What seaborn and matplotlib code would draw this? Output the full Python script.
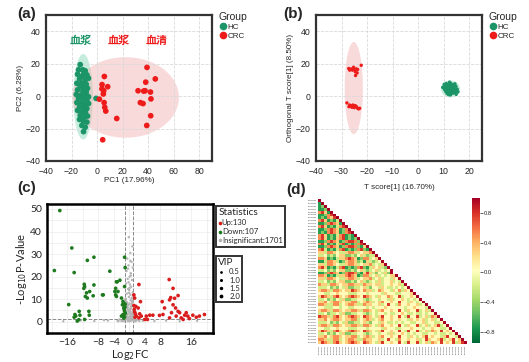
import numpy as np
import pandas as pd
import matplotlib
matplotlib.use("Agg")
import matplotlib.pyplot as plt
from matplotlib.patches import Ellipse
from matplotlib.lines import Line2D
import seaborn as sns

HC_COLOR = "#1B9468"
CRC_COLOR = "#EE1B1B"
NS_COLOR = "#B4B4B4"
DOWN_COLOR = "#1E7A1E"
UP_COLOR = "#D91C1C"
ELLIPSE_SCALE = 2.45

# ---- (a) PCA scores ----
pca_hc_x = [-13.2, -14.5, -11.1, -9.3, -15.3, -10.6, -8.0, -11.9, -13.7, -9.3,
            -6.7, -15.8, -11.9, -8.5, -13.2, -10.6, -7.5, -15.3, -11.1, -8.5,
            -16.3, -12.7, -9.3, -6.7, -14.5, -11.1, -8.0, -15.8, -12.4, -9.6,
            -6.7, -13.7, -10.6, -8.0, -15.3, -11.9, -9.1, -13.2, -10.1, -7.5,
            -13.7, -10.6, -8.0, -11.9, -9.3, -10.6, -0.8]
pca_hc_y = [19.4, 16.2, 16.2, 15.6, 13.5, 13.5, 13.1, 12.1, 10.6, 10.0,
            11.0, 7.9, 7.9, 7.3, 5.8, 5.2, 4.8, 3.8, 3.1, 2.3,
            1.0, 0.6, 0.2, -0.4, -1.5, -1.9, -2.5, -4.0, -4.6, -5.2,
            -4.6, -6.7, -7.3, -7.7, -8.8, -9.8, -10.2, -11.9, -12.9, -12.3,
            -14.4, -15.6, -16.0, -18.1, -19.2, -21.9, -1.4]
pca_crc_x = [39.1, 5.7, 45.6, 38.1, 3.9, 8.3, 5.2, 4.9, 32.1, 36.5,
             37.6, 41.8, 1.8, 33.9, 42.2, 36.0, 6.0, 6.8, 15.4, 42.0,
             38.9, 4.4, 3.8, 5.5]
pca_crc_y = [17.7, 12.1, 10.6, 8.6, 7.1, 5.8, 3.3, 1.3, 3.3, 3.1,
             3.3, 2.5, -1.9, -4.0, -1.7, -4.6, -6.9, -9.2, -13.8, -12.1,
             -18.1, -26.9, 4.5, -4.0]

# ---- (b) OPLS-DA scores ----
opls_hc_x = [10.2, 11.0, 11.8, 12.5, 13.1, 13.8, 14.4, 10.6, 11.4, 12.2,
             12.9, 13.5, 14.1, 14.8, 10.0, 10.9, 11.7, 12.4, 13.2, 13.9,
             14.6, 15.3, 10.4, 11.2, 12.0, 12.7, 13.4, 14.2, 15.0, 10.8,
             11.6, 12.3, 13.0, 13.7, 14.5, 11.3, 12.1, 12.8, 13.6, 11.9,
             12.6, 15.6, 9.6, 12.3, 14.9]
opls_hc_y = [7.2, 7.8, 6.9, 8.1, 7.4, 6.8, 7.6, 6.1, 5.8, 6.5,
             5.9, 6.3, 5.6, 6.0, 5.0, 4.8, 5.2, 4.6, 5.1, 4.4,
             4.9, 4.3, 3.9, 3.6, 4.1, 3.4, 3.8, 3.3, 3.7, 2.8,
             2.5, 3.0, 2.4, 2.9, 2.2, 1.6, 1.9, 1.3, 1.8, 0.9,
             0.7, 2.6, 5.4, 8.6, 1.1]
opls_crc_x = [-27.2, -26.6, -25.9, -25.3, -24.9, -24.2, -23.7, -24.6, -23.9, -24.5,
              -22.3, -26.8, -25.7, -27.9, -26.8, -26.6, -26.2, -25.5, -25.0, -24.6,
              -24.2, -23.7, -23.3, -22.9, -25.9, -27.1]
opls_crc_y = [17.0, 16.6, 16.8, 17.8, 16.4, 16.8, 16.4, 15.0, 14.3, 12.7,
              19.0, 16.0, 16.0, -4.2, -5.5, -6.3, -5.9, -5.5, -7.1, -5.9,
              -6.5, -7.5, -7.9, -7.5, -6.9, -6.5]

# ---- (c) volcano ----
down_fc = [-17.9, -14.8, -19.3, -14.2, -10.8, -9.1, -5.0, -11.6, -11.5, -11.7,
           -11.0, -11.3, -10.8, -10.2, -9.1, -9.3, -6.9, -15.6, -14.0, -13.8,
           -14.2, -12.9, -12.7, -10.4, -10.3, -11.5, -13.4, -13.0, -3.1, -2.4,
           -3.5, -2.9, -3.3, -2.0, -1.6, -1.75, -1.4, -1.2, -1.6, -2.0,
           -1.05, -1.2, -1.2, -1.05, -3.3, -3.7, -3.5, -6.7, -1.1, -1.3,
           -1.5, -1.0, -1.2, -1.4]
down_p = [49.3, 32.7, 22.7, 21.8, 27.2, 28.6, 22.4, 16.6, 15.6, 14.8,
          12.8, 11.2, 10.5, 13.4, 16.3, 11.5, 11.9, 7.6, 3.2, 2.5,
          2.0, 4.6, 2.9, 4.6, 2.9, 1.0, 0.3, 0.9, 17.7, 18.4,
          14.8, 13.4, 11.2, 10.5, 9.0, 7.5, 6.1, 4.7, 3.2, 2.5,
          7.8, 15.6, 28.6, 24.0, 17.7, 13.4, 11.9, 11.9, 6.5, 5.5,
          8.2, 3.8, 2.2, 1.6]
up_fc = [10.3, 11.3, 10.7, 10.4, 11.7, 12.6, 11.3, 8.5, 11.95, 2.5,
         9.1, 10.9, 13.0, 14.3, 15.1, 16.4, 18.1, 19.4, 12.1, 8.7,
         7.8, 6.1, 5.3, 4.4, 4.0, 2.7, 2.9, 2.3, 1.7, 1.4,
         1.8, 3.1, 2.5, 1.4, 1.2, 10.4, 13.4, 15.5, 17.3, 14.7,
         12.6, 13.9, 4.7, 1.3, 1.6, 1.2, 1.5]
up_p = [18.7, 14.8, 10.7, 9.7, 10.4, 11.6, 7.5, 8.9, 6.1, 16.5,
        6.1, 4.0, 4.0, 2.9, 2.5, 2.9, 2.5, 3.2, 2.5, 3.2,
        2.8, 2.9, 2.9, 2.5, 1.0, 3.5, 8.9, 6.1, 6.8, 4.3,
        2.5, 2.5, 1.7, 10.5, 11.9, 1.7, 1.7, 1.4, 2.0, 4.0,
        4.6, 1.0, 1.0, 5.5, 3.5, 7.2, 2.0]
ns_fc = [0.8, 0.3, -0.5, 0.6, -0.2, 0.9, -0.7, 0.4, 0.1, -0.4,
         0.7, -0.8, 0.2, 0.5, -0.3, 0.0, 0.9, -0.6, 0.3, -0.1,
         0.6, -0.9, 0.4, 0.8, -0.5, 0.1, -0.2, 0.7, 0.5, -0.7,
         0.2, -0.4, 0.9, 0.0, -0.8, 0.6, 0.3, -0.3, 0.4, -0.6,
         0.1, 0.8, -0.1, 0.5, -0.9, 0.2, 0.7, -0.5, 0.0, 0.3,
         -0.2, 0.6, -0.4, 1.1, -1.1, 1.3, -1.3, 1.5, -1.6, 1.2,
         -1.4, 1.8, -2.0, 1.0, -1.0, -3.0, -5.5, -9.0, -12.5, -17.0,
         3.5, 6.5, 9.5, 13.0, 17.5, -6.5, 2.2, -2.5,
         0.15, -0.25, 0.35, -0.45, 0.55, -0.65, 0.75, -0.85, 0.05, -0.15,
         0.25, -0.35, 0.45, -0.55, 0.65, -0.75, 0.85, -0.95, 0.95, -0.05,
         0.12, -0.22, 0.32, -0.42, 0.52, -0.62, 0.72, -0.82, 0.92, -0.92,
         0.18, -0.28, 0.38, -0.48, 0.58, -0.68, 0.78, -0.88, 0.08, -0.18,
         1.4, -1.2, 1.6, -1.5, 2.6, -2.8, 0.45, -0.35, 0.28, -0.12]
ns_p = [33.4, 30.5, 28.0, 26.5, 25.0, 24.0, 22.5, 21.5, 20.0, 19.0,
        18.5, 17.0, 16.5, 15.5, 14.5, 14.0, 13.0, 12.5, 12.0, 11.0,
        10.5, 10.0, 9.5, 9.0, 8.5, 8.0, 7.5, 7.0, 6.5, 6.0,
        5.5, 5.0, 4.5, 4.5, 4.0, 4.0, 3.5, 3.5, 3.0, 3.0,
        2.5, 2.5, 2.0, 2.0, 1.8, 1.5, 1.5, 1.2, 1.0, 0.8,
        0.6, 0.5, 0.3, 3.0, 2.0, 1.5, 1.0, 0.8, 0.6, 0.4,
        0.3, 0.5, 0.3, 5.0, 6.0, 0.4, 0.5, 0.3, 0.6, 0.2,
        0.4, 0.3, 0.5, 0.2, 0.4, 0.7, 0.9, 1.0,
        0.5, 0.9, 1.3, 1.7, 2.2, 2.7, 3.2, 3.8, 4.3, 4.9,
        5.4, 6.2, 6.8, 7.4, 8.1, 8.8, 9.3, 10.2, 11.5, 12.8,
        0.2, 0.4, 0.7, 1.1, 1.4, 1.9, 2.4, 2.9, 3.4, 4.1,
        4.6, 5.2, 5.9, 6.6, 7.2, 7.9, 8.6, 9.8, 15.0, 17.5,
        0.6, 0.9, 0.2, 0.4, 0.3, 0.2, 20.5, 23.5, 27.0, 37.5]
stat_labels = ["Up:130", "Down:107", "Insignificant:1701"]
vip_levels = [0.5, 1.0, 1.5, 2.0]
vip_group = {"Up": 1.5, "Down": 1.5, "NS": 0.5}

# ---- (d) correlation heatmap (lower triangle, coded levels) ----
corr_levels = {"G": -0.72, "g": -0.45, "l": -0.2, "y": 0.05, "o": 0.28,
               "r": 0.52, "R": 0.78, "D": 1.0}
corr_rows = [
    "D", "GD", "GgD", "GGgD", "rRoGD", "GGgrRD", "GgGroRD", "rRoGgGlD",
    "GGgrRroGD", "rRoGgGlrRD", "GGgrRroGgrD", "GgGrRroGgrRD", "rRoGgGlrRGgGD",
    "rRoGgGorRGgGgD", "GGgrRroGgrRRrgD", "rRoGgGlrRGgGgrRD", "GGgrRroGgrRRrgGoD",
    "rRlGgGlrRGgGgrRgGD",
    "oolrroyllorrolyoorD",
    "llyglgyoogglgyolgllD",
    "rroGgGloorRroGgrrlyoD",
    "GGlrrolGgorroglGolglyD",
    "oolrroyllorrolyoorlyloD",
    "rRoGgGlrRGgGgrRgGloyolgD",
    "llyglgyoogglgyolglyolylyD",
    "GGgrRroGgrRRrgGoRolgylogD",
    "rroGgGloorRroGgrrlyolylyooD",
    "oolrroyllorrolyoorlyolyyloyD",
    "llyglgyoogglgyolglylolyyolylD",
    "roolrroyoorroolrooyoolyyoyyolD",
    "lllyglgyloggllyolgyyloyllylylyD",
    "orrolrroyooRroyroolyroyyloyrloyD",
    "yyllyyoyyylllyyylyyyyloyyyllyyyoD",
    "oRrolrRoyorRroyRroyloyyroyyRlyyoyD",
    "llyglgyloggllyylglyylyylolyyoylylyD",
    "ooryorroyoorrlyorolyoryyoyyRyyloylyD",
    "rrollrrlyorrollrooyyolyRyylryyoyyolyD",
    "yylllyylyyllyyyylylyyyoyyyyyylyyoyyylD",
    "orrolrroyoorrolrroyloryyoyyRyloyyRlyolD",
    "llygllyloggllyylglylyylyllyyoyllyllylyyD",
    "RrrolrRoyorRroyRroyloRyyoyyRylRyyRlyolroD",
    "ooryorroyoorrlyorolyoryyoyyoyyloyoyolyolyD",
    "lllyglgyloggllyolgyyloyllylylyyllyyolyyllyD",
    "orrolrroyoorrolrroyloryyoyyRyloyyRlyolyoRlyD",
    "yyllyyoyyylllyyylyyyyloyyyllyyyoyyylyyoyyllyD",
    "oRrolrRoyorRroyRroyloRyyoyyRylRyyRlyolroyRyoyD",
    "llyglgyloggllyylglyylyylolyyoylylyyllyylyllylyD",
    "ooryorroyoorrlyorolyoryyoyyRyyloylyoRyoyyloRyylD",
    "rrollrrlyorrollrooyyolyRyylryyoyyolyRoyyoRlyoRyoD",
    "oRrolrRoyorRroyRroyloRyyoyyRylRyyRlyolroyRyoyRloRD",
]
metabolite_ids = ["MEDN%04d" % (1120 + k * 7) for k in range(len(corr_rows))]
cbar_ticks = [-0.8, -0.4, 0.0, 0.4, 0.8]
cbar_labels = ["\u22120.8", "\u22120.4", "0.0", "0.4", "0.8"]


def add_ellipse(ax, x, y, color, alpha):
    # axis-aligned normal-theory ellipse around a group
    x = np.asarray(x)
    y = np.asarray(y)
    w = 2 * ELLIPSE_SCALE * x.std(ddof=1)
    h = 2 * ELLIPSE_SCALE * y.std(ddof=1)
    ax.add_patch(Ellipse((x.mean(), y.mean()), w, h,
                         facecolor=color, alpha=alpha, edgecolor="none", zorder=0))


def style_score_axes(ax):
    for s in ax.spines.values():
        s.set_linewidth(1.6)
        s.set_color("#333333")
    ax.grid(True, linestyle="--", color="#d9d9d9", linewidth=0.6)
    ax.set_axisbelow(True)
    ax.tick_params(direction="out", length=3, width=0.8, labelsize=6.3, pad=1)


def group_legend(ax):
    handles = [Line2D([], [], marker="o", ls="", color=HC_COLOR, markersize=4.5, label="HC"),
               Line2D([], [], marker="o", ls="", color=CRC_COLOR, markersize=4.5, label="CRC")]
    ax.legend(handles=handles, title="Group", loc="upper left", bbox_to_anchor=(1.04, 1.02),
              frameon=False, fontsize=5.8, title_fontsize=7.5, handletextpad=0.1,
              borderaxespad=0, labelspacing=0.15, handlelength=1.0, alignment="left",
              borderpad=0)


sns.set_theme(style="white")
plt.rcParams["font.family"] = ["Liberation Sans", "Noto Sans CJK SC", "DejaVu Sans"]

W, H = 529, 362
fig = plt.figure(figsize=(W / 100, H / 100), dpi=100)


def px_axes(x0, y0, x1, y1):
    return fig.add_axes([x0 / W, 1 - y1 / H, (x1 - x0) / W, (y1 - y0) / H])


# ---- (a) ----
axa = px_axes(46, 15, 212, 161)
add_ellipse(axa, pca_hc_x, pca_hc_y, "#7FD6B2", 0.45)
add_ellipse(axa, pca_crc_x, pca_crc_y, "#F2AFAF", 0.45)
df_a = pd.DataFrame({"x": pca_hc_x + pca_crc_x, "y": pca_hc_y + pca_crc_y,
                     "Group": ["HC"] * len(pca_hc_x) + ["CRC"] * len(pca_crc_x)})
sns.scatterplot(data=df_a, x="x", y="y", hue="Group", palette={"HC": HC_COLOR, "CRC": CRC_COLOR},
                s=17, linewidth=0, legend=False, ax=axa, zorder=3)
axa.set_xlim(-40, 90)
axa.set_ylim(-40, 50)
axa.set_xticks([-40, -20, 0, 20, 40, 60, 80])
axa.set_yticks([-40, -20, 0, 20, 40])
style_score_axes(axa)
axa.set_xlabel("PC1 (17.96%)", fontsize=5.8, labelpad=1)
axa.set_ylabel("PC2 (6.28%)", fontsize=5.8, labelpad=1)
group_legend(axa)
axa.text(0.21, 0.82, "血浆", color=HC_COLOR, fontsize=8, fontweight="bold",
         transform=axa.transAxes, ha="center", va="center")
axa.text(0.44, 0.82, "血浆", color=CRC_COLOR, fontsize=8, fontweight="bold",
         transform=axa.transAxes, ha="center", va="center")
axa.text(0.67, 0.82, "血清", color=CRC_COLOR, fontsize=8, fontweight="bold",
         transform=axa.transAxes, ha="center", va="center")

# ---- (b) ----
axb = px_axes(316, 15, 482, 161)
add_ellipse(axb, opls_hc_x, opls_hc_y, "#7FD6B2", 0.45)
add_ellipse(axb, opls_crc_x, opls_crc_y, "#F2AFAF", 0.45)
df_b = pd.DataFrame({"x": opls_hc_x + opls_crc_x, "y": opls_hc_y + opls_crc_y,
                     "Group": ["HC"] * len(opls_hc_x) + ["CRC"] * len(opls_crc_x)})
sns.scatterplot(data=df_b, x="x", y="y", hue="Group", palette={"HC": HC_COLOR, "CRC": CRC_COLOR},
                s=6, linewidth=0, legend=False, ax=axb, zorder=3)
axb.set_xlim(-40, 25)
axb.set_ylim(-40, 50)
axb.set_xticks([-40, -30, -20, -10, 0, 10, 20])
axb.set_yticks([-40, -20, 0, 20, 40])
style_score_axes(axb)
axb.set_xlabel("T score[1] (16.70%)", fontsize=5.8, labelpad=6)
axb.set_ylabel("Orthogonal T score[1] (8.50%)", fontsize=5.8, labelpad=1)
group_legend(axb)

# ---- (c) volcano ----
axc = px_axes(47, 204, 213, 333)
df_c = pd.DataFrame({
    "fc": ns_fc + down_fc + up_fc,
    "p": ns_p + down_p + up_p,
    "Group": ["NS"] * len(ns_fc) + ["Down"] * len(down_fc) + ["Up"] * len(up_fc),
})
df_c["VIP"] = df_c["Group"].map(vip_group)
vip_sizes = {0.5: 3, 1.0: 5, 1.5: 7, 2.0: 10}
axc.axvline(-1, color="#888888", ls="--", lw=0.7, zorder=1)
axc.axvline(1, color="#888888", ls="--", lw=0.7, zorder=1)
axc.axhline(1.3, color="#888888", ls="--", lw=0.7, zorder=1)
sns.scatterplot(data=df_c, x="fc", y="p", hue="Group",
                palette={"NS": NS_COLOR, "Down": DOWN_COLOR, "Up": UP_COLOR},
                size="VIP", sizes=vip_sizes, linewidth=0, legend=False, ax=axc, zorder=3)
axc.set_xlim(-21.2, 21.6)
axc.set_ylim(-3.8, 52.2)
axc.set_xticks([-16, -8, -4, 0, 4, 8, 16])
axc.set_yticks([0, 10, 20, 30, 40, 50])
axc.set_xticks([-20, -12, 12, 20], minor=True)
axc.set_yticks([-5, 5, 15, 25, 35, 45], minor=True)
axc.grid(True, which="both", color="#ebebeb", linewidth=0.5)
axc.set_axisbelow(True)
for s in axc.spines.values():
    s.set_linewidth(1.8)
    s.set_color("black")
axc.tick_params(which="major", direction="out", length=2.5, width=0.7, labelsize=7.5, pad=1)
axc.tick_params(which="minor", length=0)
for lab in axc.get_xticklabels() + axc.get_yticklabels():
    lab.set_family(["Lato", "DejaVu Sans"])
axc.set_xlabel(r"Log$_2$FC", fontsize=8, labelpad=1, family=["Lato", "DejaVu Sans"])
axc.set_ylabel(r"-Log$_{10}$P-Value", fontsize=8, labelpad=1, family=["Lato", "DejaVu Sans"])

stat_handles = [Line2D([], [], marker="o", ls="", color=c, markersize=1.6)
                for c in [UP_COLOR, DOWN_COLOR, NS_COLOR]]
leg1 = axc.legend(stat_handles, stat_labels, title="Statistics", loc="upper left",
                  bbox_to_anchor=(216 / W, 1 - 206 / H), bbox_transform=fig.transFigure,
                  title_fontsize=7.2, frameon=True, fancybox=False,
                  edgecolor="black", borderpad=0.3, handlelength=0.3, handletextpad=0.15,
                  labelspacing=0.25, alignment="left", borderaxespad=0,
                  prop={"family": ["Lato", "DejaVu Sans"], "size": 5.6})
leg1.get_frame().set_linewidth(1.4)
leg1.get_title().set_family(["Lato", "DejaVu Sans"])
axc.add_artist(leg1)
vip_handles = [Line2D([], [], marker="o", ls="", color="black", markersize=np.sqrt(vip_sizes[v]) * 0.55)
               for v in vip_levels]
leg2 = axc.legend(vip_handles, ["%.1f" % v for v in vip_levels], title="VIP", loc="upper left",
                  bbox_to_anchor=(216 / W, 1 - 256 / H), bbox_transform=fig.transFigure,
                  title_fontsize=7.2, frameon=True, fancybox=False,
                  edgecolor="black", borderpad=0.3, handlelength=0.8, handletextpad=0.6,
                  labelspacing=0.15, alignment="left", borderaxespad=0,
                  prop={"family": ["Lato", "DejaVu Sans"], "size": 5.6})
leg2.get_frame().set_linewidth(1.4)
leg2.get_title().set_family(["Lato", "DejaVu Sans"])

# ---- (d) heatmap ----
n = len(corr_rows)
corr = np.full((n, n), np.nan)
for i, row in enumerate(corr_rows):
    for j, code in enumerate(row):
        corr[i, j] = corr_levels[code]
axd = px_axes(318, 199, 467, 344)
cax = px_axes(472, 198, 480, 343)
sns.heatmap(corr, ax=axd, cbar_ax=cax, cmap="RdYlGn_r", vmin=-0.95, vmax=1.0,
            xticklabels=metabolite_ids, yticklabels=metabolite_ids)
axd.tick_params(length=0, labelsize=1.3, pad=1)
cax.tick_params(labelsize=4.2, length=2, width=0.5, pad=1)
cax.set_yticks(cbar_ticks)
cax.set_yticklabels(cbar_labels)

# ---- panel letters ----
for lab, x, y in [("(a)", 17, 14), ("(b)", 283, 14), ("(c)", 17, 188), ("(d)", 286, 190)]:
    fig.text(x / W, 1 - y / H, lab, fontsize=11, fontweight="bold", va="center", ha="left")

fig.savefig("out.png", dpi=100)
